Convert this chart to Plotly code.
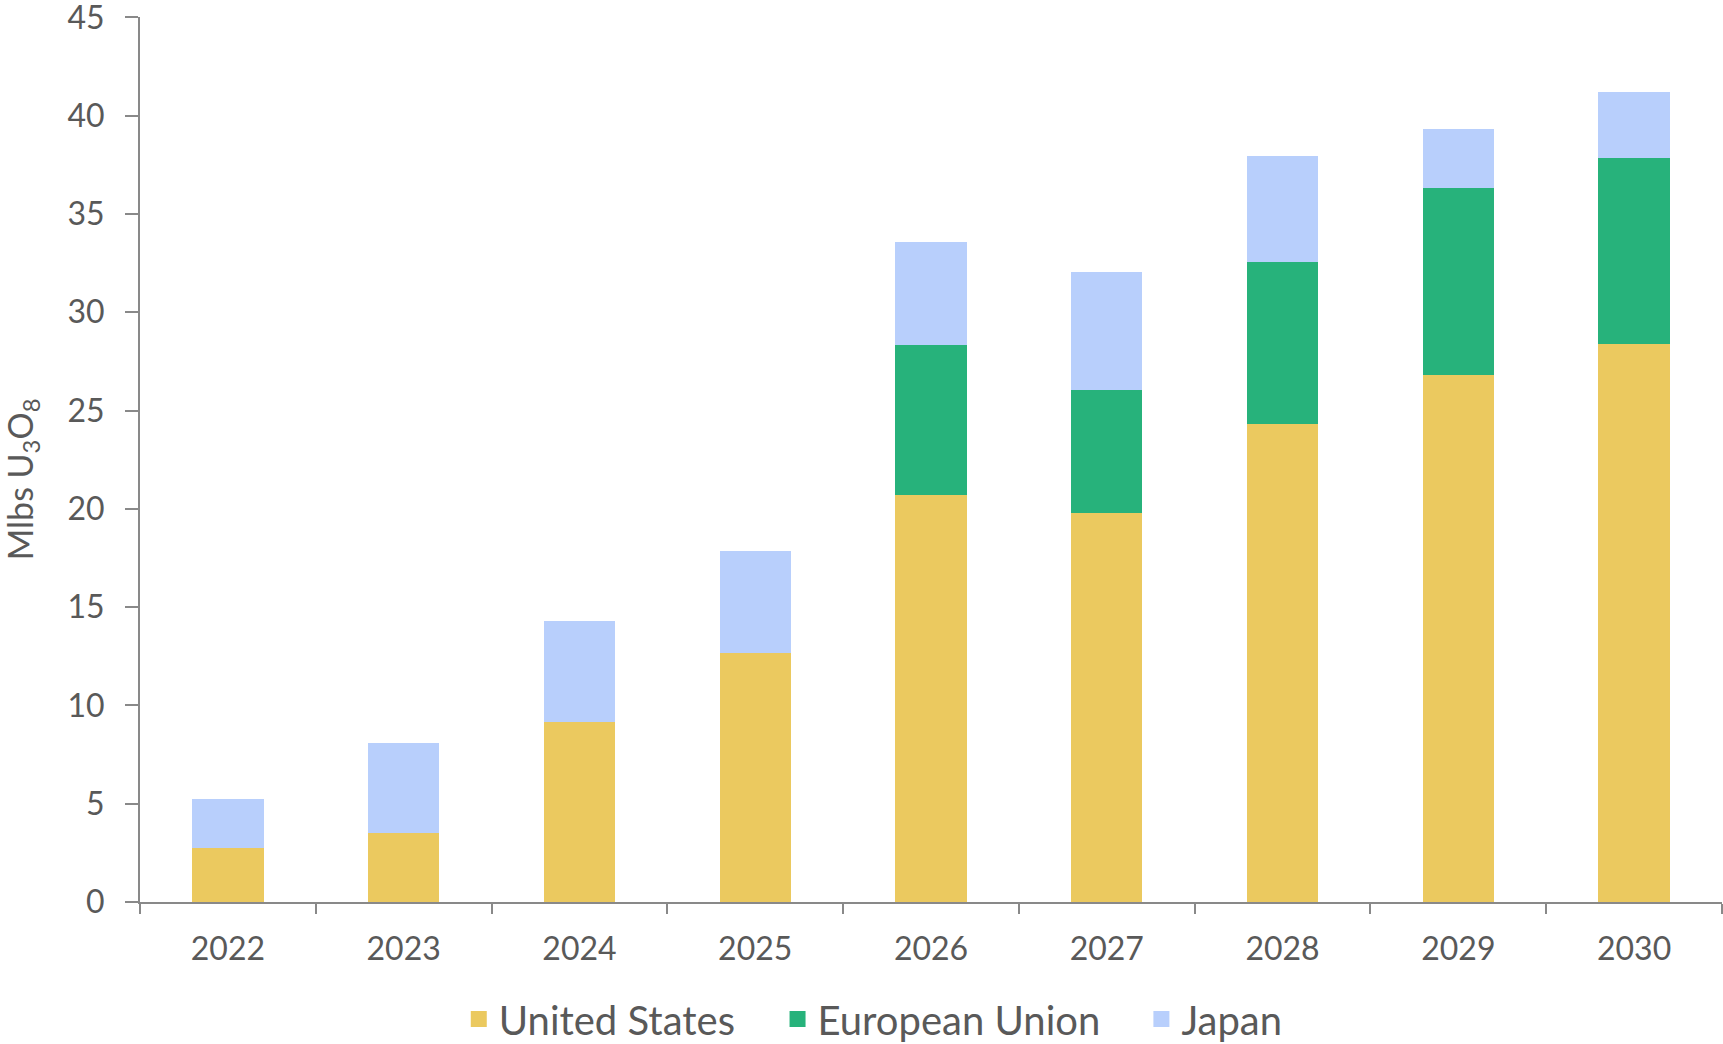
import plotly.graph_objects as go

years = ["2022", "2023", "2024", "2025", "2026", "2027", "2028", "2029", "2030"]
united_states = [2.75, 3.5, 9.16, 12.67, 20.71, 19.8, 24.34, 26.8, 28.41]
european_union = [0, 0, 0, 0, 7.64, 6.27, 8.21, 9.54, 9.44]
japan = [2.49, 4.6, 5.13, 5.2, 5.2, 5.98, 5.4, 2.99, 3.35]

series = [
    ("United States", united_states, "#EBC95F"),
    ("European Union", european_union, "#27B27B"),
    ("Japan", japan, "#B8CFFC"),
]
legend_ids = ["legend", "legend2", "legend3"]
legend_x = [0.2015, 0.403, 0.633]

fig = go.Figure()
for name, vals, color in series:
    fig.add_trace(go.Bar(
        x=years, y=vals, name=name, marker=dict(color=color, line=dict(width=0)),
        showlegend=False,
    ))
for (name, vals, color), lid in zip(series, legend_ids):
    fig.add_trace(go.Scatter(
        x=[None], y=[None], mode="markers", name=name, legend=lid,
        marker=dict(symbol="square", size=16, color=color),
    ))

legend_style = dict(
    orientation="h", xanchor="left", xref="paper",
    y=0.024, yanchor="middle", yref="container",
    font=dict(family="Lato", size=40, color="#595959"),
    itemsizing="trace", bgcolor="rgba(0,0,0,0)",
)
layout_legends = {lid: dict(legend_style, x=lx) for lid, lx in zip(legend_ids, legend_x)}

fig.update_layout(
    width=1723, height=1044,
    barmode="stack", bargap=0.594,
    plot_bgcolor="white", paper_bgcolor="white",
    margin=dict(l=140, r=1, t=17, b=142, autoexpand=False),
    xaxis=dict(
        type="category", showline=True, linecolor="#898989", linewidth=2,
        ticks="outside", tickson="boundaries", ticklen=10, tickwidth=2, tickcolor="#898989",
        tickfont=dict(family="Lato", size=32, color="#595959"),
        ticklabelstandoff=18, showgrid=False,
    ),
    yaxis=dict(
        range=[0, 45.02], tickvals=[0, 5, 10, 15, 20, 25, 30, 35, 40, 45],
        showline=True, linecolor="#898989", linewidth=2,
        ticks="outside", ticklen=13, tickwidth=2, tickcolor="#898989",
        tickfont=dict(family="Lato", size=32, color="#595959"),
        ticklabelstandoff=14, ticklabeloverflow="allow",
        showgrid=False, zeroline=False,
    ),
    annotations=[dict(
        text="Mlbs U<sub>3</sub>O<sub>8</sub>", textangle=-90,
        x=-0.0746, xref="paper", xanchor="center",
        y=0.4777, yref="paper", yanchor="middle", showarrow=False,
        font=dict(family="Lato", size=34, color="#595959"),
    )],
    **layout_legends,
)

fig.write_html("out.html")
